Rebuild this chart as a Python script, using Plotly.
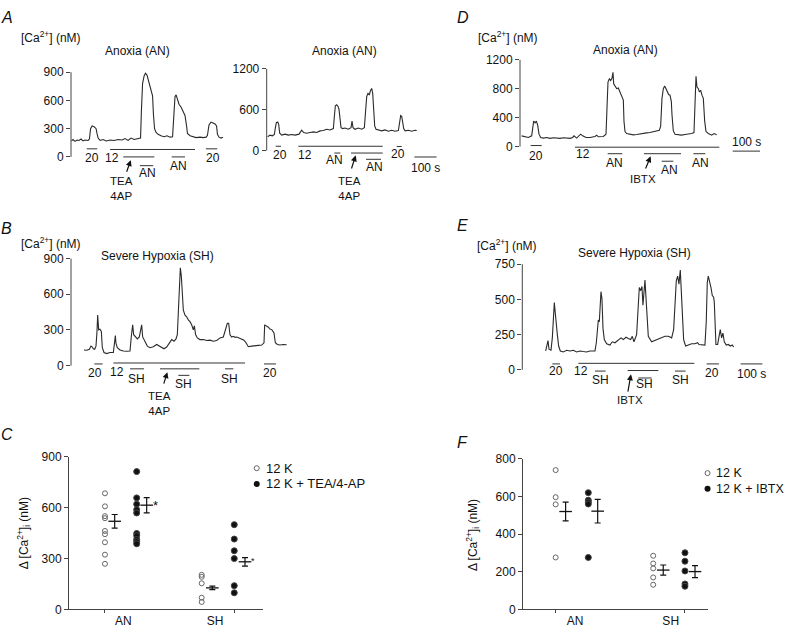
import plotly.graph_objects as go

W, H = 788, 635
FONT = "Liberation Sans, Arial, Helvetica, sans-serif"
INK = "#111111"
AXC = "#444444"

# ======================= DATA =======================
A1_t = [2, 9, 18, 27, 36, 45, 54, 63, 77, 83, 88, 95, 104, 113, 117, 122, 131, 144, 158, 176,
        194, 212, 230, 243, 257, 270, 284, 302, 313, 317, 322, 329, 335, 342, 347, 353, 360, 367, 371, 376,
        383, 392, 405, 419, 432, 446, 457, 461, 468, 473, 479, 486, 495, 504, 513, 520, 524, 536, 549, 563,
        581, 594, 608, 614, 621, 630, 639, 648, 655, 659, 666, 675, 684]
A1_ca = [170, 185, 165, 180, 175, 190, 170, 180, 175, 190, 300, 330, 320, 300, 250, 200, 175, 185, 170, 180,
         175, 185, 180, 195, 175, 200, 185, 195, 200, 500, 780, 860, 890, 870, 820, 760, 720, 650, 450, 300,
         260, 240, 225, 215, 225, 210, 215, 420, 640, 660, 610, 560, 530, 490, 440, 330, 250, 225, 215, 205,
         210, 205, 210, 230, 340, 370, 360, 350, 330, 240, 210, 200, 210]
A1_bar_t0 = [71, 176, 235, 310, 453, 607]
A1_bar_t1 = [118, 558, 375, 370, 513, 658]
A1_lbl = ["20", "12", "AN", "AN", "20"]
A1_lbl_t = [96, 186, 343, 483, 640]
A1_drug = "TEA<br>4AP"

A2_t = [4.5, 15, 25.5, 34.5, 39, 43.5, 49.5, 54, 58.5, 67.5, 82.5, 97.5, 112.5, 127.5, 145.5, 157.5, 166.5, 180, 195, 210,
        225, 240, 255, 270, 285, 300, 304.5, 309, 315, 321, 325.5, 330, 334.5, 342, 352.5, 367.5, 379.5, 384, 388.5, 397.5,
        412.5, 427.5, 439.5, 445.5, 450, 456, 462, 466.5, 472.5, 477, 481.5, 486, 492, 502.5, 517.5, 532.5, 547.5, 562.5, 577.5, 592.5,
        598.5, 603, 607.5, 612, 616.5, 622.5, 637.5, 652.5, 667.5, 675]
A2_ca = [202, 226, 216, 235, 336, 408, 418, 384, 254, 226, 240, 226, 235, 226, 240, 298, 264, 254, 264, 274,
         264, 288, 293, 312, 302, 322, 504, 658, 672, 648, 600, 432, 336, 322, 331, 312, 336, 432, 336, 312,
         331, 312, 336, 600, 792, 840, 816, 878, 912, 840, 552, 360, 312, 302, 288, 302, 283, 298, 283, 293,
         408, 514, 504, 432, 322, 288, 298, 283, 298, 293]
A2_bar_t0 = [40.5, 142.5, 304.5, 379.5, 447, 585]
A2_bar_t1 = [64.5, 522, 331.5, 522, 514.5, 607.5]
A2_lbl = ["20", "12", "AN", "AN", "20"]
A2_lbl_t = [60, 172, 303, 483, 592.5]
A2_drug = "TEA<br>4AP"

D_t = [6, 18.3, 30.5, 42.7, 46.4, 50, 55, 59.8, 64.7, 69.5, 75.6, 85.4, 97.6, 109.8, 122, 134.2, 146.4, 158.6, 170.8, 183,
       192.8, 197.6, 207.4, 217.2, 222, 229.4, 241.6, 256.2, 274.5, 280.6, 286.7, 305, 314.8, 318.4, 322, 327, 331.8, 336.7, 340.4, 342.8,
       347.7, 353.8, 359.9, 366, 373.3, 378.2, 380.6, 384.3, 390.4, 402.6, 414.8, 427, 439.2, 451.4, 463.6, 475.8, 488, 500.2, 510, 514.8,
       519.7, 524.6, 529.5, 534.4, 539.2, 544.1, 549, 553.9, 556.3, 561.2, 567.3, 579.5, 591.7, 603.9, 616.1, 628.3, 636.8, 640.5, 644.2, 647.8,
       652.7, 656.4, 661.2, 666.1, 671, 675.9, 680.8, 689.3, 701.5, 710, 719.8]
D_ca = [148, 135, 126, 148, 283, 351, 328, 351, 297, 171, 126, 117, 126, 113, 122, 117, 113, 122, 117, 113,
        126, 148, 117, 157, 171, 148, 126, 126, 140, 157, 135, 140, 171, 531, 891, 936, 914, 945, 1026, 869,
        837, 801, 810, 756, 702, 644, 351, 207, 180, 167, 162, 167, 171, 180, 189, 194, 207, 216, 225, 283,
        666, 801, 837, 801, 756, 720, 711, 621, 441, 216, 171, 162, 158, 167, 171, 180, 194, 576, 972, 824,
        801, 756, 778, 711, 666, 351, 207, 180, 158, 180, 162]
D_bar_t0 = [39, 201.3, 320.9, 453.8, 518.5, 634.5]
D_bar_t1 = [79.3, 729.6, 374.5, 589.3, 561.2, 678.3]
D_lbl = ["20", "12", "AN", "AN", "AN"]
D_lbl_t = [58.6, 229.4, 345.3, 546.6, 661.3]
D_drug = "IBTX"

B_t = [58.5, 70.5, 82.5, 90, 96, 100.5, 106.5, 112.5, 117, 120, 124.5, 130.5, 136.5, 141, 148.5, 160.5, 175.5, 190.5, 195, 199.5,
       202.5, 208.5, 220.5, 235.5, 250.5, 265.5, 271.5, 277.5, 282, 289.5, 298.5, 307.5, 313.5, 318, 322.5, 328.5, 336, 343.5, 355.5, 370.5,
       385.5, 397.5, 408, 418.5, 430.5, 442.5, 453, 463.5, 472.5, 478.5, 483, 487.5, 492, 496.5, 501, 505.5, 513, 520.5, 528, 535.5,
       543, 550.5, 555, 561, 568.5, 580.5, 595.5, 610.5, 625.5, 640.5, 655.5, 670.5, 685.5, 696, 703.5, 709.5, 715.5, 723, 730.5, 738,
       745.5, 756, 768, 778.5, 787.5, 798, 813, 828, 843, 858, 868.5, 871.5, 880.5, 888, 895.5, 904.5, 913.5, 919.5, 928.5, 940.5,
       955.5, 970.5]
B_ca = [132, 129, 137, 164, 156, 142, 137, 164, 288, 425, 301, 307, 288, 151, 110, 101, 110, 110, 178, 252,
        186, 151, 132, 123, 121, 123, 247, 343, 260, 241, 225, 241, 301, 343, 241, 219, 197, 164, 151, 159,
        178, 164, 156, 142, 156, 186, 219, 205, 225, 260, 466, 712, 822, 754, 603, 466, 425, 411, 384, 370,
        343, 301, 334, 260, 233, 219, 219, 211, 214, 205, 211, 233, 241, 315, 356, 356, 260, 241, 247, 238,
        241, 233, 225, 214, 192, 159, 164, 170, 170, 173, 192, 343, 334, 323, 307, 301, 274, 192, 178, 173,
        178, 175]
B_bar_t0 = [105, 190.5, 265.5, 400.5, 483, 693, 868.5]
B_bar_t1 = [142.5, 783, 328.5, 577.5, 532.5, 730.5, 922.5]
B_lbl = ["20", "12", "SH", "SH", "SH", "20"]
B_lbl_t = [108, 208.5, 295.5, 505.5, 711, 895.5]
B_drug = "TEA<br>4AP"

E_t = [107.4, 113.6, 118.2, 122.8, 132, 138.1, 144.3, 147.3, 151.9, 156.5, 161.1, 167.2, 174.9, 188.7, 204, 219.4, 234.7, 250, 265.3, 280.7,
       296, 311.3, 334.3, 340.5, 345, 349.7, 354.3, 357.3, 361.9, 366.5, 371.1, 377.2, 388, 403.3, 414, 426.3, 441.6, 453.9, 464.6, 477,
       487.6, 498.4, 506, 513.7, 525.9, 533.6, 538.2, 544.3, 550.5, 555, 559.7, 564.3, 568.9, 573.5, 579.6, 594.9, 610.3, 625.6, 641, 656.3,
       671.7, 687, 696.1, 702.2, 708.4, 714.5, 720.6, 726.8, 731.4, 736, 742.1, 751.3, 763.6, 778.9, 794.2, 806.5, 812.6, 840.2, 846.2, 850.9,
       855.5, 861.7, 867.8, 874, 880.1, 883.1, 886.2, 890.8, 898.5, 904.6, 910.7, 916.9, 923, 929.1, 938.3, 947.5, 956.7, 965.9, 972]
E_ca = [134, 169, 208, 146, 139, 227, 400, 477, 400, 285, 250, 169, 134, 127, 139, 134, 139, 127, 134, 130,
        127, 134, 134, 192, 319, 354, 342, 458, 555, 504, 296, 215, 185, 176, 199, 192, 208, 227, 215, 231,
        222, 215, 238, 199, 250, 458, 585, 562, 592, 458, 574, 638, 516, 342, 238, 199, 208, 220, 227, 238,
        238, 227, 285, 458, 632, 666, 608, 708, 585, 412, 215, 169, 176, 185, 185, 192, 180, 176, 342, 620,
        666, 632, 585, 527, 516, 481, 296, 180, 180, 250, 285, 227, 261, 199, 176, 180, 169, 176, 162]
E_bar_t0 = [138.1, 257.7, 334.3, 484.6, 533.6, 702.2, 847.9]
E_bar_t1 = [173.4, 791.2, 383.4, 625.6, 595, 751.3, 904.6]
E_lbl = ["20", "12", "SH", "SH", "SH", "20"]
E_lbl_t = [153.4, 268.4, 361.9, 564.3, 726.8, 874]
E_drug = "IBTX"

C_categories = ["AN", "SH"]
C_AN_ctrl = [685, 608, 550, 538, 463, 444, 396, 323, 269]
C_AN_drug = [813, 658, 621, 588, 569, 448, 435, 413, 400, 387]
C_SH_ctrl = [204, 192, 154, 69, 44]
C_SH_drug = [500, 415, 346, 300, 140, 98]
C_mean = [520, 615, 127, 281]
C_sem = [40, 45, 10, 25]
C_legend = ["12 K", "12 K + TEA/4-AP"]

F_categories = ["AN", "SH"]
F_AN_ctrl = [740, 596, 558, 276]
F_AN_drug = [620, 580, 570, 560, 276]
F_SH_ctrl = [285, 244, 218, 170, 131]
F_SH_drug = [301, 256, 204, 135, 123]
F_mean = [520, 522, 209, 201]
F_sem = [50, 63, 27, 32]
F_legend = ["12 K", "12 K + IBTX"]

# ======================= LAYOUT SPECS =======================
TRACE_PANELS = [
    dict(i=1, t=A1_t, ca=A1_ca, b0=A1_bar_t0, b1=A1_bar_t1, lbl=A1_lbl, lbl_t=A1_lbl_t, drug=A1_drug,
         axis_px=71, right_px=232, s_per_px=4.5, y0_px=153.3, ytop_px=66.7, ytop_val=900, top_px=58, bot_px=200,
         ticks=[0, 300, 600, 900],
         bar_y=[86, 79, 0, -93, 0, 86], lbl_y=[-10, -7, -173, -93, -10],
         drug_t=228, drug_y=-337, arrow=(269, -35, 248, -173), scale=None),
    dict(i=2, t=A2_t, ca=A2_ca, b0=A2_bar_t0, b1=A2_bar_t1, lbl=A2_lbl, lbl_t=A2_lbl_t, drug=A2_drug,
         axis_px=266.7, right_px=442, s_per_px=4.5, y0_px=146.7, ytop_px=63.3, ytop_val=1200, top_px=56, bot_px=200,
         ticks=[0, 600, 1200],
         bar_y=[62, 62, -38, -38, -130, 58], lbl_y=[-72, -62, -134, -240, -58],
         drug_t=372, drug_y=-562, arrow=(400.5, -72, 379.5, -288),
         scale=(664.5, -96, 714.5, -264)),
    dict(i=3, t=D_t, ca=D_ca, b0=D_bar_t0, b1=D_bar_t1, lbl=D_lbl, lbl_t=D_lbl_t, drug=D_drug,
         axis_px=520, right_px=768, s_per_px=3.66, y0_px=142.7, ytop_px=54, ytop_val=1200, top_px=48, bot_px=200,
         ticks=[0, 400, 800, 1200],
         bar_y=[14, -9, -99, -99, -203, -99], lbl_y=[-135, -108, -234, -324, -234],
         drug_t=449, drug_y=-450, arrow=(478.2, -135, 457.5, -324),
         scale=(778.4, -63, 828.4, 59)),
    dict(i=4, t=B_t, ca=B_ca, b0=B_bar_t0, b1=B_bar_t1, lbl=B_lbl, lbl_t=B_lbl_t, drug=B_drug,
         axis_px=71, right_px=300, s_per_px=4.5, y0_px=366.7, ytop_px=257.3, ytop_val=900, top_px=250, bot_px=422,
         ticks=[0, 300, 600, 900],
         bar_y=[14, 22, -27, -27, -82, -27, 14], lbl_y=[-60, -55, -110, -151, -110, -60],
         drug_t=397.5, drug_y=-322, arrow=(433.5, -55, 415.5, -164), scale=None),
    dict(i=5, t=E_t, ca=E_ca, b0=E_bar_t0, b1=E_bar_t1, lbl=E_lbl, lbl_t=E_lbl_t, drug=E_drug,
         axis_px=522.3, right_px=775, s_per_px=4.6, y0_px=371, ytop_px=263, ytop_val=750, top_px=255, bot_px=422,
         ticks=[0, 250, 500, 750],
         bar_y=[42, 46, -9, -5, -58, -9, 42], lbl_y=[-9, -9, -69, -104, -69, -21],
         drug_t=495.3, drug_y=-213, arrow=(499.9, -32, 484.6, -166),
         scale=(1004.3, 42, 1054.8, -32)),
]

fig = go.Figure()
annotations = []
shapes = []
layout = dict(width=W, height=H, autosize=False, margin=dict(l=0, r=0, t=0, b=0),
              paper_bgcolor="white", plot_bgcolor="rgba(0,0,0,0)", showlegend=False,
              font=dict(family=FONT, size=12, color=INK))


def axkey(i, letter):
    return f"{letter}axis" if i == 1 else f"{letter}axis{i}"


def axref(i, letter):
    return letter if i == 1 else f"{letter}{i}"


def pann(text, px, py, size=12, xanchor="center", angle=0):
    annotations.append(dict(text=text, x=px / W, y=1 - py / H, xref="paper", yref="paper",
                            showarrow=False, xanchor=xanchor, yanchor="middle", textangle=angle,
                            font=dict(size=size, color=INK, family=FONT)))


for P in TRACE_PANELS:
    i = P["i"]
    xr, yr = axref(i, "x"), axref(i, "y")
    k = P["s_per_px"]
    nm = P["ytop_val"] / (P["y0_px"] - P["ytop_px"])
    layout[axkey(i, "x")] = dict(domain=[P["axis_px"] / W, P["right_px"] / W],
                                 range=[0, (P["right_px"] - P["axis_px"]) * k],
                                 visible=False, anchor=yr, fixedrange=True)
    layout[axkey(i, "y")] = dict(domain=[1 - P["bot_px"] / H, 1 - P["top_px"] / H],
                                 range=[(P["y0_px"] - P["bot_px"]) * nm, (P["y0_px"] - P["top_px"]) * nm],
                                 anchor=xr, tickvals=P["ticks"], ticktext=[str(v) for v in P["ticks"]],
                                 ticks="outside", ticklen=4, tickwidth=1, tickcolor=AXC,
                                 showline=False, showgrid=False, zeroline=False,
                                 tickfont=dict(size=12, color=INK), fixedrange=True)
    shapes.append(dict(type="line", xref="paper", yref="paper",
                       x0=P["axis_px"] / W, x1=P["axis_px"] / W,
                       y0=1 - P["y0_px"] / H, y1=1 - P["ytop_px"] / H,
                       line=dict(color=AXC, width=1)))
    fig.add_trace(go.Scatter(x=P["t"], y=P["ca"], mode="lines", xaxis=xr, yaxis=yr,
                             line=dict(color="#2a2a2a", width=1.1), hoverinfo="skip"))
    for s, e, lv in zip(P["b0"], P["b1"], P["bar_y"]):
        fig.add_trace(go.Scatter(x=[s, e], y=[lv, lv], mode="lines", xaxis=xr, yaxis=yr,
                                 line=dict(color="#333333", width=1), hoverinfo="skip"))
    for txt, tt, yy in zip(P["lbl"], P["lbl_t"], P["lbl_y"]):
        annotations.append(dict(text=txt, x=tt, y=yy, xref=xr, yref=yr, showarrow=False,
                                xanchor="center", yanchor="middle", font=dict(size=12, color=INK)))
    annotations.append(dict(text=P["drug"], x=P["drug_t"], y=P["drug_y"], xref=xr, yref=yr, showarrow=False,
                            xanchor="center", yanchor="middle", font=dict(size=11.5, color=INK)))
    tx, ty, sx, sy = P["arrow"]
    annotations.append(dict(text="", x=tx, y=ty, ax=sx, ay=sy, xref=xr, yref=yr, axref=xr, ayref=yr,
                            showarrow=True, arrowhead=2, arrowsize=1, arrowwidth=1.2,
                            arrowcolor=INK, standoff=0, startstandoff=0))
    if P["scale"]:
        s0, sy0, lx, ly = P["scale"]
        fig.add_trace(go.Scatter(x=[s0, s0 + 100], y=[sy0, sy0], mode="lines", xaxis=xr, yaxis=yr,
                                 line=dict(color="#333333", width=1), hoverinfo="skip"))
        annotations.append(dict(text="100 s", x=lx, y=ly, xref=xr, yref=yr, showarrow=False,
                                xanchor="center", yanchor="middle", font=dict(size=12, color=INK)))

SCATTER_PANELS = [
    dict(i=6, cats=C_categories, groups=[C_AN_ctrl, C_AN_drug, C_SH_ctrl, C_SH_drug], mean=C_mean, sem=C_sem,
         legend=C_legend, cal=(123.3, 215.0), left_px=69, right_px=263, top_px=460, bot_px=616,
         ymax=900, ticks=[0, 300, 600, 900],
         gx=[0.80, 1.146, 1.855, 2.21], mx=[0.906, 1.255, 1.971, 2.327], minor=[0.80, 2.218],
         stars=[(1.346, 615, 13), (2.411, 283, 9)],
         leg_x=2.455, leg_y=[833, 740], leg_text_px=263.5, leg_text_py=[471.7, 487.7], leg_size=13),
    dict(i=7, cats=F_categories, groups=[F_AN_ctrl, F_AN_drug, F_SH_ctrl, F_SH_drug], mean=F_mean, sem=F_sem,
         legend=F_legend, cal=(575.0, 670.7), left_px=523, right_px=708, top_px=462, bot_px=616,
         ymax=800, ticks=[0, 200, 400, 600, 800],
         gx=[0.798, 1.139, 1.817, 2.149], mx=[0.902, 1.237, 1.922, 2.254], minor=[0.798, 2.149],
         stars=[],
         leg_x=2.385, leg_y=[724, 641], leg_text_px=714, leg_text_py=[476.7, 492.7], leg_size=12.5),
]

for P in SCATTER_PANELS:
    i = P["i"]
    xr, yr = axref(i, "x"), axref(i, "y")
    c1, c2 = P["cal"]
    to_x = lambda px: 1 + (px - c1) / (c2 - c1)
    layout[axkey(i, "x")] = dict(domain=[P["left_px"] / W, P["right_px"] / W],
                                 range=[to_x(P["left_px"]), to_x(P["right_px"])],
                                 anchor=yr, showline=True, linecolor=AXC, linewidth=1,
                                 tickvals=[1, 2], ticktext=P["cats"], ticks="",
                                 minor=dict(tickvals=P["minor"], ticks="outside", ticklen=3,
                                            tickcolor=AXC, showgrid=False),
                                 showgrid=False, zeroline=False, tickfont=dict(size=12, color=INK),
                                 fixedrange=True)
    layout[axkey(i, "y")] = dict(domain=[1 - P["bot_px"] / H, 1 - P["top_px"] / H],
                                 range=[0, P["ymax"]], anchor=xr, showline=True, linecolor=AXC, linewidth=1,
                                 tickvals=P["ticks"], ticks="outside", ticklen=4, tickcolor=AXC,
                                 showgrid=False, zeroline=False, tickfont=dict(size=12, color=INK),
                                 fixedrange=True)
    for gi, (vals, x0) in enumerate(zip(P["groups"], P["gx"])):
        filled = gi % 2 == 1
        fig.add_trace(go.Scatter(
            x=[x0] * len(vals), y=vals, mode="markers", xaxis=xr, yaxis=yr, cliponaxis=False,
            marker=dict(symbol="circle" if filled else "circle-open", size=6 if filled else 5,
                        color="#111111" if filled else "#666666", line=dict(width=1)),
            hoverinfo="skip"))
    for m, se, x0 in zip(P["mean"], P["sem"], P["mx"]):
        fig.add_trace(go.Scatter(
            x=[x0], y=[m], mode="markers", xaxis=xr, yaxis=yr, cliponaxis=False,
            marker=dict(symbol="line-ew-open", size=9, color="#111111",
                        line=dict(width=1.3, color="#111111")),
            error_y=dict(type="data", array=[se], visible=True, color="#111111", thickness=1.2, width=3),
            hoverinfo="skip"))
    for sx, sy, sz in P["stars"]:
        annotations.append(dict(text="*", x=sx, y=sy, xref=xr, yref=yr, showarrow=False,
                                xanchor="center", yanchor="middle", font=dict(size=sz, color=INK)))
    fig.add_trace(go.Scatter(x=[P["leg_x"]], y=[P["leg_y"][0]], mode="markers", xaxis=xr, yaxis=yr,
                             cliponaxis=False, hoverinfo="skip",
                             marker=dict(symbol="circle-open", size=5, color="#666666", line=dict(width=1))))
    fig.add_trace(go.Scatter(x=[P["leg_x"]], y=[P["leg_y"][1]], mode="markers", xaxis=xr, yaxis=yr,
                             cliponaxis=False, hoverinfo="skip",
                             marker=dict(symbol="circle", size=6, color="#111111")))
    for txt, py in zip(P["legend"], P["leg_text_py"]):
        pann(txt, P["leg_text_px"], py, size=P["leg_size"], xanchor="left")

CA_LBL = "[Ca<sup>2+</sup>] (nM)"
DCA_LBL = "\u0394 [Ca<sup>2+</sup>]<sub>i</sub> (nM)"
pann("<i>A</i>", 7, 11, size=16)
pann(CA_LBL, 51, 31)
pann("Anoxia (AN)", 137, 45)
pann("Anoxia (AN)", 344, 45)
pann("<i>D</i>", 463, 11, size=16)
pann(CA_LBL, 508, 31)
pann("Anoxia (AN)", 625, 44)
pann("<i>B</i>", 6, 227, size=16)
pann(CA_LBL, 51, 241)
pann("Severe Hypoxia (SH)", 157, 255)
pann("<i>E</i>", 462, 223, size=16)
pann(CA_LBL, 507, 243)
pann("Severe Hypoxia (SH)", 634, 252)
pann("<i>C</i>", 7, 437, size=16)
pann(DCA_LBL, 24, 538, angle=-90)
pann("<i>F</i>", 462, 445, size=16)
pann(DCA_LBL, 473, 540, angle=-90)

layout["annotations"] = annotations
layout["shapes"] = shapes
fig.update_layout(**layout)
fig.write_html("out.html", config={"displayModeBar": False},
               post_script="document.body.style.margin='0';document.body.style.overflow='hidden';")
